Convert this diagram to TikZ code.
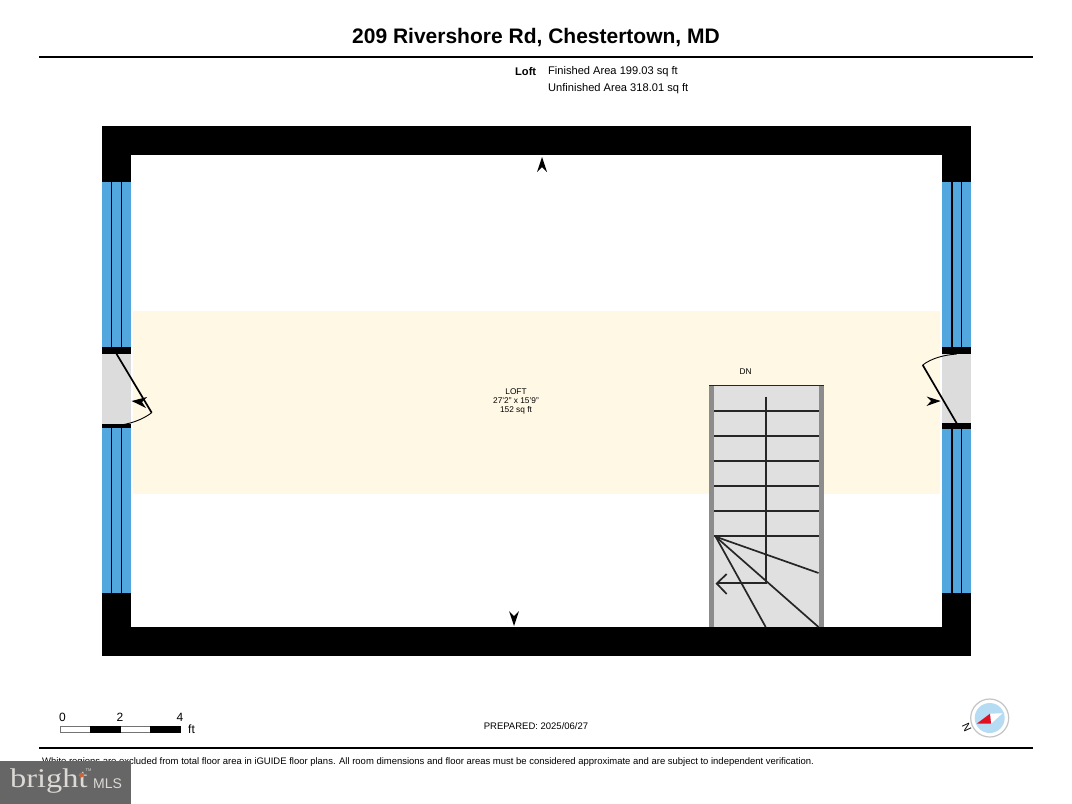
\documentclass[tikz,border=0pt]{standalone}
\usepackage{fontspec}
\setmainfont{Liberation Sans}
\newfontfamily\logofont{Liberation Serif}
\definecolor{glassblue}{HTML}{52A8DE}
\definecolor{bandyellow}{HTML}{FFF8E5}
\definecolor{stairgrey}{HTML}{E0E0E0}
\definecolor{railgrey}{HTML}{8C8C8C}
\definecolor{doorgrey}{HTML}{DCDCDC}
\definecolor{logogrey}{HTML}{666666}
\definecolor{logotext}{HTML}{DDDAD6}
\definecolor{logospark}{HTML}{C8643C}
\definecolor{dialblue}{HTML}{B5DCF3}
\definecolor{dialring}{HTML}{C4C4C4}
\definecolor{needlered}{HTML}{E0101E}
\tikzset{
  planline/.style={black!85,line width=1.7pt},
  doorleaf/.style={black,line width=1.7pt},
  thinline/.style={black,line width=0.9pt},
  mullion/.style={black,line width=1.2pt},
  rule/.style={black,line width=1.8pt},
  viewtip/.style={fill=black,draw=none},
  smalltext/.style={inner sep=0pt,font=\fontsize{8.3}{9}\selectfont},
  legendtext/.style={inner sep=0pt,anchor=west,font=\fontsize{11.1}{12}\selectfont}
}
\begin{document}
\begin{tikzpicture}[x=1pt,y=1pt]
  \useasboundingbox (0,0) rectangle (1072,-804);
  % walls and room
  \fill [black] (102,-126) rectangle (971,-656);
  \fill [white] (131,-155) rectangle (942,-627);
  \fill [bandyellow] (133,-311) rectangle (940,-494);
  % left side
  \fill [glassblue] (102,-182) rectangle (131,-347);
  \fill [glassblue] (102,-428) rectangle (131,-593);
  \fill [doorgrey] (102,-354) rectangle (131,-424);
  \fill [black] (102,-347) rectangle (131,-354);
  \fill [black] (102,-424) rectangle (131,-428);
  \draw [mullion] (111.7,-182) -- (111.7,-347);
  \draw [mullion] (121.3,-182) -- (121.3,-347);
  \draw [mullion] (111.7,-428) -- (111.7,-593);
  \draw [mullion] (121.3,-428) -- (121.3,-593);
  % right side
  \fill [glassblue] (942,-182) rectangle (971,-347);
  \fill [glassblue] (942,-429) rectangle (971,-593);
  \fill [doorgrey] (942,-354) rectangle (971,-423);
  \fill [black] (942,-347) rectangle (971,-354);
  \fill [black] (942,-423) rectangle (971,-429);
  \draw [mullion] (952,-182) -- (952,-347);
  \draw [mullion] (961.5,-182) -- (961.5,-347);
  \draw [mullion] (952,-429) -- (952,-593);
  \draw [mullion] (961.5,-429) -- (961.5,-593);
  % doors
  \draw [doorleaf] (116,-353) -- (151.7,-412.7);
  \draw [thinline] (151.7,-412.7) .. controls (142,-420) and (130,-424) .. (116.7,-425.7);
  \draw [doorleaf] (956.7,-423.3) -- (922.7,-365);
  \draw [thinline] (922.7,-365) .. controls (932,-358) and (944,-355) .. (956.7,-354);
  % view arrows
  \fill [viewtip] (131.7,-401) -- (147,-397) -- (142,-402) -- (146,-408) -- cycle;
  \fill [viewtip] (940.7,-401) -- (926.5,-396.5) -- (931,-401) -- (926.5,-406) -- cycle;
  \fill [viewtip] (542,-157) -- (547,-172) -- (542,-167) -- (537,-172) -- cycle;
  \fill [viewtip] (514,-626) -- (519,-611) -- (514,-616) -- (509,-611) -- cycle;
  % stairs
  \fill [stairgrey] (709,-386) rectangle (824,-627);
  \fill [railgrey] (708.5,-386) rectangle (714,-627);
  \fill [railgrey] (818.5,-386) rectangle (824,-627);
  \draw [planline] (709,-385.5) -- (824,-385.5);
  \draw [planline] (714,-410.7) -- (818.5,-410.7);
  \draw [planline] (714,-436) -- (818.5,-436);
  \draw [planline] (714,-460.7) -- (818.5,-460.7);
  \draw [planline] (714,-486) -- (818.5,-486);
  \draw [planline] (714,-510.7) -- (818.5,-510.7);
  \draw [planline] (714,-535.7) -- (818.5,-535.7);
  \draw [planline] (715.7,-536.7) -- (818.5,-573);
  \draw [planline] (715.7,-536.7) -- (818.5,-627);
  \draw [planline] (715.7,-536.7) -- (765.7,-627);
  \draw [planline] (765.7,-396.7) -- (765.7,-583) -- (716.7,-583);
  \draw [planline] (726.7,-574) -- (716.7,-583.5) -- (726.7,-594);
  % header and footer
  \node [inner sep=0pt,font=\fontsize{21}{24}\bfseries\selectfont] (title) at (536,-38) {209 Rivershore Rd, Chestertown, MD};
  \draw [rule] (39,-57) -- (1033,-57);
  \node [legendtext,font=\fontsize{11.1}{12}\bfseries\selectfont] (loftkey) at (515,-71.3) {Loft};
  \node [legendtext] (finished) at (548,-71.3) {Finished Area 199.03 sq ft};
  \node [legendtext] (unfinished) at (548,-88.3) {Unfinished Area 318.01 sq ft};
  \node [smalltext] (dnlabel) at (745.5,-372) {DN};
  \node [smalltext] (loftname) at (516,-392) {LOFT};
  \node [smalltext] (loftsize) at (516,-401) {27'2" x 15'9"};
  \node [smalltext] (loftarea) at (516,-410) {152 sq ft};
  % scale bar
  \draw [black!55,line width=0.6pt] (60.5,-726.7) rectangle (180.5,-732.3);
  \fill [black] (90,-726.4) rectangle (120.5,-732.6);
  \fill [black] (150,-726.4) rectangle (180.7,-732.6);
  \node [inner sep=0pt,font=\fontsize{12}{14}\selectfont] (mark0) at (62.5,-717.5) {0};
  \node [inner sep=0pt,font=\fontsize{12}{14}\selectfont] (mark2) at (120,-717.5) {2};
  \node [inner sep=0pt,font=\fontsize{12}{14}\selectfont] (mark4) at (180,-717.5) {4};
  \node [inner sep=0pt,font=\fontsize{12}{14}\selectfont] (markft) at (191.5,-729) {ft};
  \node [inner sep=0pt,font=\fontsize{9.5}{12}\selectfont] (prepared) at (536,-726.5) {PREPARED: 2025/06/27};
  % compass
  \draw [dialring,line width=1.2pt,fill=white] (989.7,-718) circle (19);
  \fill [dialblue] (989.7,-718) circle (15);
  \fill [white] (990,-713.7) -- (1002.5,-713.2) -- (991,-723.7) -- cycle;
  \fill [needlered] (976.7,-723.7) -- (990,-713.7) -- (991,-723.7) -- cycle;
  \node [inner sep=0pt,rotate=-65,font=\fontsize{11}{12}\selectfont] (northmark) at (966.7,-727) {N};
  \draw [rule] (39,-748) -- (1033,-748);
  \node [inner sep=0pt,anchor=west,font=\fontsize{9.48}{11}\selectfont] (disclaimer) at (42,-762) {White regions are excluded from total floor area in iGUIDE floor plans. All room dimensions and floor areas must be considered approximate and are subject to independent verification.};
  % logo
  \fill [logogrey] (0,-761) rectangle (130.5,-804);
  \node [inner sep=0pt,anchor=base west,xscale=1.2,text=logotext,font=\fontsize{27}{30}\logofont\selectfont] (brightlogo) at (10,-787) {bright};
  \node [inner sep=0pt,anchor=base west,text=logotext,font=\fontsize{14}{16}\selectfont] (mlslogo) at (93,-788) {MLS};
  \node [inner sep=0pt,text=logotext,font=\fontsize{4}{5}\selectfont] (tmlogo) at (88.5,-770) {TM};
  \fill [logospark] (81.5,-775) circle (2.5);
\end{tikzpicture}
\end{document}
